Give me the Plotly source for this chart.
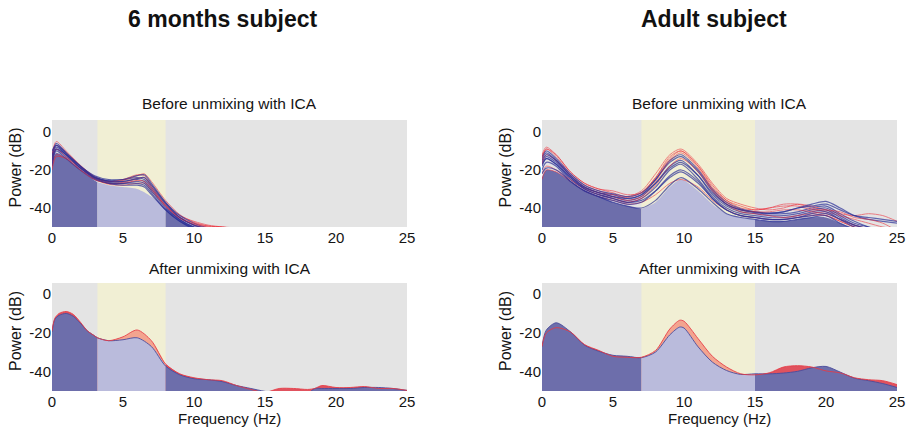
import plotly.graph_objects as go

W, H = 908, 433

# ---------------- data ----------------
# 6 months subject, before ICA (individual channels)
inf_before_freq = [0, 0.3, 1, 2, 3, 4, 5, 6, 6.5, 7, 8, 9, 10, 11, 12, 13]
inf_before_blue = [
    [-12, -6, -11, -18, -23, -25, -25, -24, -25, -29, -38, -45, -49, -51, -52, -53],
    [-14, -8, -12, -19, -24, -26, -26, -25, -26, -30, -39, -46, -50, -52, -53, -54],
    [-16, -9, -13, -19, -24, -26.5, -27, -26, -27, -31, -40, -46, -50, -52, -53, -54],
    [-10, -7, -12, -18, -24, -25.5, -25, -23, -22.5, -27, -37, -44, -48, -50.5, -52, -53],
    [-18, -10, -14, -20, -25, -27, -28, -28, -29, -33, -41, -47, -50.5, -52, -53, -54],
    [-13, -7, -11, -18, -23.5, -26, -26, -24.5, -24, -28, -37.5, -45, -49, -51, -52, -53],
    [-15, -9, -12, -19, -24.5, -27, -27, -27, -28, -32, -41, -47, -51, -52, -53, -54],
]
inf_before_red = [
    [-12, -5, -10, -17.5, -23.5, -26, -25, -22.5, -23, -28, -37, -44, -47, -49, -50, -51],
    [-18, -12, -14, -20, -25, -27.5, -28, -27, -27, -31, -39, -45, -49, -50.5, -51, -52],
    [-14, -7, -11, -18, -24, -26, -25.5, -23, -22, -26, -36, -43.5, -47.5, -49.5, -50, -50.5],
    [-16, -9, -13, -19, -24.5, -27, -27, -25.5, -26, -30, -39, -45.5, -48.5, -50, -51, -52],
    [-20, -13, -14, -20, -25, -27, -26.5, -24.5, -24, -29, -38.5, -45, -48, -49.5, -50, -51],
]
inf_floor_freq = [0, 0.3, 1, 2, 3, 3.2, 4, 5, 6, 7, 8, 9, 10, 11]
inf_floor = [-16, -11, -14, -20, -25.5, -26.5, -28, -29, -30, -34, -40, -46, -50, -52]

# Adult subject, before ICA (individual channels)
adu_before_freq = [0, 0.3, 1, 2, 3, 4, 5, 6, 7, 8, 9, 9.8, 11, 12, 13, 14, 15, 16, 17, 18, 19, 20, 21, 22, 23, 24, 25]
adu_before_blue = [
    [-14, -11, -15, -23, -29, -32, -33, -35, -33, -25, -16, -13, -21, -31, -38, -41, -42, -43, -43, -42, -40, -39, -43, -47, -50, -52, -53],
    [-16, -13, -16, -24, -29.5, -32, -34, -36, -34, -27, -18, -15, -23, -33, -39, -42, -43, -44, -44, -43, -41, -40, -44, -48, -50, -52, -54],
    [-18, -14, -17, -25, -30, -33, -35, -37, -35, -29, -20, -17, -25, -34, -40, -43, -44, -45, -45, -44, -42, -41, -45, -49, -51, -53, -54],
    [-13, -10, -14, -22, -28, -31, -32.5, -34, -32, -25, -15, -12, -20, -30, -37, -40.5, -42, -42.5, -42, -40, -38, -36.5, -40, -44, -46, -47, -48],
    [-20, -16, -18, -26, -31, -34, -36, -38, -37, -31, -23, -20, -26, -35, -41, -44, -45, -46, -46, -45, -43, -42, -46, -50, -52, -54, -55],
    [-22, -19, -20, -26, -31, -34, -37, -39, -40, -36, -28, -24, -30, -37, -43, -45, -46, -47, -47, -46, -45, -44, -48, -51, -53, -55, -56],
    [-15, -12, -15, -23, -29, -32, -34, -35, -33, -27, -19, -16, -23, -32, -38, -41, -42.5, -43, -42, -40, -39, -38, -41, -44, -45, -46, -47],
    [-17, -14, -17, -24, -30, -33, -35, -37, -36, -31, -24, -21, -27, -35, -41, -44, -45, -46, -46, -45, -44, -43, -46, -49, -51, -53, -55],
]
adu_before_red = [
    [-12, -8, -12, -21, -27, -30, -32, -34, -31, -22, -12, -9, -17, -27, -35, -38, -40, -41, -40, -38, -39, -41, -43, -44, -43, -44, -47],
    [-15, -9, -13, -22, -28, -31, -33, -34.5, -32, -24, -14, -10, -18, -28, -36, -40, -41, -40, -38, -38, -40, -42, -44, -46, -48, -50, -51],
    [-22, -18, -20, -25, -30, -33, -35, -37, -35, -28, -18, -14, -21, -31, -38, -42, -43, -44, -45, -44, -43, -44, -47, -50, -52, -54, -55],
    [-25, -20, -21, -26, -31, -34, -36, -38, -37, -33, -27, -25, -29, -36, -41, -44, -45, -46, -46, -45, -44, -44, -47, -50, -52, -54, -55],
    [-13, -9, -12, -21, -27, -30, -31, -33, -32, -24, -13, -10, -18, -29, -36, -39, -41, -40, -39, -39, -41, -41, -42, -45, -46, -48, -52],
    [-17, -12, -15, -23, -29, -32, -34, -36, -34, -26, -15, -11, -19, -30, -37, -41, -42, -42, -41, -41, -42, -43, -46, -49, -51, -53, -54],
]
adu_floor_freq = [0, 0.3, 1, 2, 3, 4, 5, 6, 7, 8, 9, 9.8, 11, 12, 13, 14, 15, 16, 17, 18, 19, 20, 21, 22, 23]
adu_floor = [-24, -20, -21, -26, -31, -34, -37, -39, -40.5, -37, -29, -25, -31, -38, -43, -45, -46, -47, -47, -46, -45, -45, -48, -51, -52]

# 6 months subject, after ICA (component spectra)
inf_after_freq = [0, 0.2, 0.5, 1, 1.5, 2, 2.5, 3, 3.2, 4, 5, 6, 7, 8, 9, 10, 11, 12, 13, 14, 15, 16, 17, 18, 18.5, 19, 20, 21, 22, 23, 24, 25]
inf_after_blue = [-19.5, -13, -11, -10, -11.5, -15, -19, -21.5, -22.5, -24, -23.5, -22.5, -27, -37, -41.5, -43.5, -44, -45, -47, -48.5, -50, -51, -51, -51, -48.5, -48.5, -48.5, -48.5, -48, -48, -48.5, -49.5]
inf_after_red = [-19, -12.5, -10, -9, -10.5, -14.5, -19, -21.5, -22.5, -24, -22, -18.5, -24, -36, -41, -43, -44, -44.5, -47, -49, -50.5, -48.5, -48.5, -49, -48.5, -47, -48, -48, -47.5, -48.5, -48.5, -49.5]

# Adult subject, after ICA (component spectra)
adu_after_freq = [0, 0.3, 1, 2, 3, 4, 5, 6, 7, 8, 9, 9.7, 10, 11, 12, 13, 14, 15, 16, 17, 18, 19, 20, 21, 22, 23, 24, 25]
adu_after_blue = [-27, -18.6, -14.8, -19.4, -26.3, -29.4, -31.5, -32, -32.7, -29.8, -21, -17, -17.5, -27.2, -35, -39.3, -41.3, -41, -41, -40.6, -39.7, -37.9, -37.2, -40.1, -43.2, -44.5, -46, -48]
adu_after_red = [-27, -20, -17.3, -19.5, -26, -29, -32, -32.5, -32.5, -29, -18, -13.5, -14, -23, -32, -37.5, -41, -41.5, -40.5, -37.5, -36.8, -37.5, -39.5, -40.5, -43, -44, -44.5, -46.5]

inf_band = [3.2, 8]
adu_band = [7, 15]

x_ticks = [0, 5, 10, 15, 20, 25]
y_ticks = [-40, -20, 0]
y_ticktext = ["-40", "-20", "0"]

# ---------------- styling ----------------
BG = "#e4e4e4"
YEL = "#f1efd4"
DARK = "#6d6eab"
LIGHT = "#babbdc"
RED_OUT = "#e0525e"
RED_IN = "#f3a48f"
BLUE_LINE = "#2a2f98"
RED_LINE = "#ef2633"
FONT = "Liberation Sans, Arial, sans-serif"
TXT = "#141414"

fig = go.Figure()

panels = {
    "tl": dict(xa="x", ya="y", xd=[52, 407], yd=[120, 227], yr=[-50, 6.3], band=inf_band),
    "tr": dict(xa="x2", ya="y2", xd=[542, 897], yd=[120, 227], yr=[-50, 6.3], band=adu_band),
    "bl": dict(xa="x3", ya="y3", xd=[52, 407], yd=[283, 391], yr=[-49.8, 5.6], band=inf_band),
    "br": dict(xa="x4", ya="y4", xd=[542, 897], yd=[283, 391], yr=[-49.8, 5.6], band=adu_band),
}


def band_fill(freqs, vals, band, c_out, c_in, xa, ya):
    i0 = freqs.index(band[0])
    i1 = freqs.index(band[1])
    segs = [(0, i0, c_out), (i0, i1, c_in), (i1, len(freqs) - 1, c_out)]
    for a, b, col in segs:
        fx = freqs[a:b + 1]
        fy = vals[a:b + 1]
        fig.add_trace(go.Scatter(x=fx, y=[-70] * len(fx), mode="lines", line=dict(width=0),
                                 xaxis=xa, yaxis=ya, hoverinfo="skip", showlegend=False))
        fig.add_trace(go.Scatter(x=fx, y=fy, mode="lines", line=dict(width=0, shape="spline", smoothing=0.8),
                                 fill="tonexty", fillcolor=col, xaxis=xa, yaxis=ya,
                                 hoverinfo="skip", showlegend=False))


def line(freqs, vals, color, width, opacity, xa, ya):
    fig.add_trace(go.Scatter(x=freqs, y=vals, mode="lines",
                             line=dict(color=color, width=width, shape="spline", smoothing=0.8),
                             opacity=opacity, xaxis=xa, yaxis=ya, hoverinfo="skip", showlegend=False))


# top-left
p = panels["tl"]
band_fill(inf_floor_freq, inf_floor, p["band"], DARK, LIGHT, p["xa"], p["ya"])
nb, nr = len(inf_before_blue), len(inf_before_red)
for i in range(max(nb, nr)):
    if i < nb:
        line(inf_before_freq, inf_before_blue[i], BLUE_LINE, 1.2, 0.7, p["xa"], p["ya"])
    if i < nr:
        line(inf_before_freq, inf_before_red[i], RED_LINE, 1, 0.55, p["xa"], p["ya"])

# top-right
p = panels["tr"]
band_fill(adu_floor_freq, adu_floor, p["band"], DARK, LIGHT, p["xa"], p["ya"])
nb, nr = len(adu_before_blue), len(adu_before_red)
for i in range(max(nb, nr)):
    if i < nb:
        line(adu_before_freq, adu_before_blue[i], BLUE_LINE, 1.2, 0.7, p["xa"], p["ya"])
    if i < nr:
        line(adu_before_freq, adu_before_red[i], RED_LINE, 1, 0.55, p["xa"], p["ya"])

# bottom panels
for key, fr, blue, red in [("bl", inf_after_freq, inf_after_blue, inf_after_red),
                           ("br", adu_after_freq, adu_after_blue, adu_after_red)]:
    p = panels[key]
    band_fill(fr, red, p["band"], RED_OUT, RED_IN, p["xa"], p["ya"])
    band_fill(fr, blue, p["band"], DARK, LIGHT, p["xa"], p["ya"])
    line(fr, blue, "#4b4d9e", 1, 0.9, p["xa"], p["ya"])
    line(fr, red, "#e83a45", 1, 0.85, p["xa"], p["ya"])

# axes, bands
layout = dict(width=W, height=H, margin=dict(l=0, r=0, t=0, b=0, autoexpand=False),
              paper_bgcolor="white", plot_bgcolor=BG, showlegend=False,
              font=dict(family=FONT, color=TXT))
shapes = []
annotations = []
for key, p in panels.items():
    xs = p["xa"].replace("x", "xaxis")
    ys = p["ya"].replace("y", "yaxis")
    layout[xs] = dict(domain=[p["xd"][0] / W, p["xd"][1] / W], range=[0, 25],
                      anchor=p["ya"], tickvals=x_ticks, ticks="", showgrid=False,
                      zeroline=False, showline=False, tickfont=dict(size=15, color=TXT),
                      fixedrange=True, automargin=False)
    layout[ys] = dict(domain=[1 - p["yd"][1] / H, 1 - p["yd"][0] / H], range=p["yr"],
                      anchor=p["xa"], tickvals=y_ticks, ticktext=y_ticktext, ticks="",
                      showgrid=False, zeroline=False, showline=False,
                      tickfont=dict(size=15, color=TXT), fixedrange=True,
                      automargin=False)
    shapes.append(dict(type="rect", xref=p["xa"], yref=p["ya"] + " domain",
                       x0=p["band"][0], x1=p["band"][1], y0=0, y1=1,
                       fillcolor=YEL, line=dict(width=0), layer="below"))
    cx = (p["xd"][0] + p["xd"][1]) / 2 / W
    title = "Before unmixing with ICA" if key in ("tl", "tr") else "After unmixing with ICA"
    ty = 104 if key in ("tl", "tr") else 268
    annotations.append(dict(text=title, x=cx, y=1 - ty / H, xref="paper", yref="paper",
                            showarrow=False, xanchor="center", yanchor="middle",
                            font=dict(size=15.5, color=TXT)))
    cy = (p["yd"][0] + p["yd"][1]) / 2
    annotations.append(dict(text="Power (dB)", x=(p["xd"][0] - 37) / W, y=1 - (cy - 6) / H,
                            xref="paper", yref="paper", showarrow=False, textangle=-90,
                            xanchor="center", yanchor="middle",
                            font=dict(size=16, color=TXT)))
    if key in ("bl", "br"):
        annotations.append(dict(text="Frequency (Hz)", x=cx, y=1 - 418 / H,
                                xref="paper", yref="paper", showarrow=False,
                                xanchor="center", yanchor="middle",
                                font=dict(size=15, color=TXT)))

annotations.append(dict(text="<b>6 months subject</b>", x=222 / W, y=1 - 19 / H, xref="paper",
                        yref="paper", showarrow=False, xanchor="center", yanchor="middle",
                        font=dict(size=23, color="#111111")))
annotations.append(dict(text="<b>Adult subject</b>", x=714 / W, y=1 - 19 / H, xref="paper",
                        yref="paper", showarrow=False, xanchor="center", yanchor="middle",
                        font=dict(size=23, color="#111111")))
layout["shapes"] = shapes
layout["annotations"] = annotations
fig.update_layout(**layout)

fig.write_html("out.html", config={"displayModeBar": False},
               post_script="document.body.style.margin='0';document.body.style.padding='0';")
